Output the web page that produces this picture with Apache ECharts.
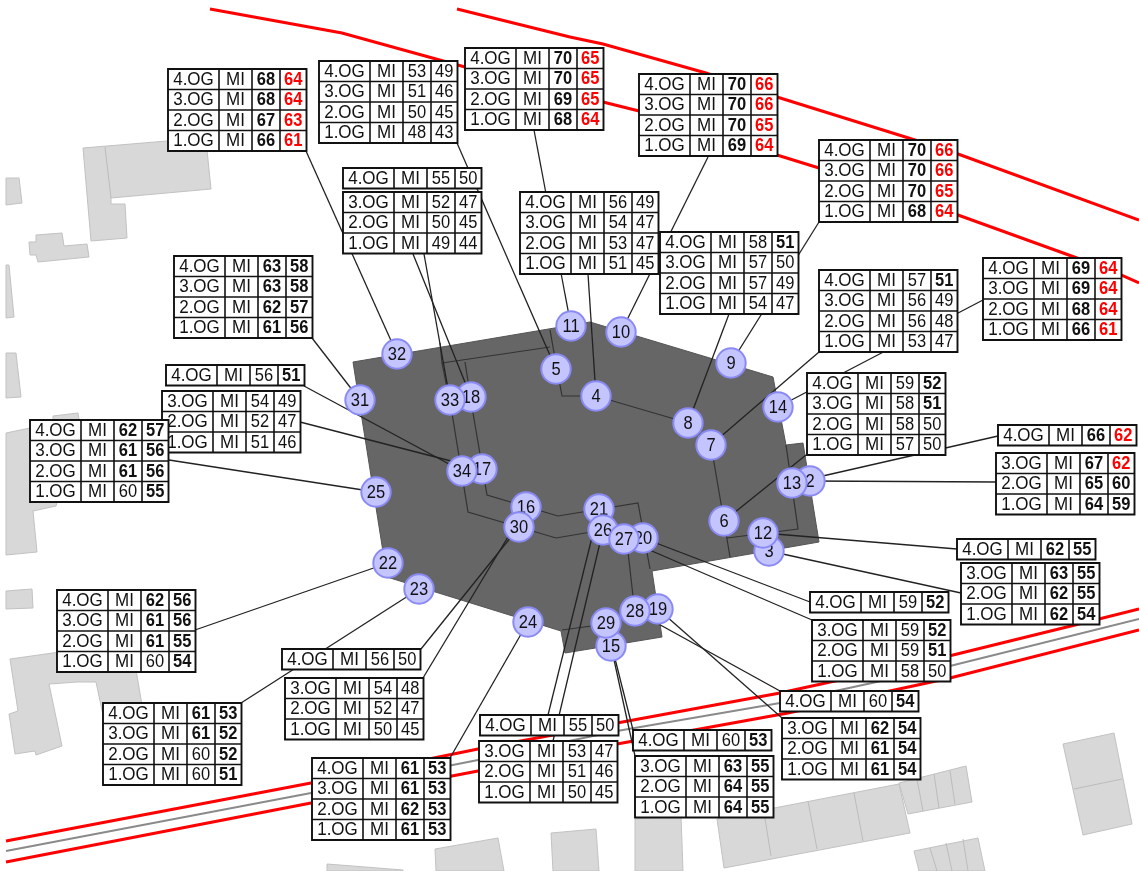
<!DOCTYPE html>
<html><head><meta charset="utf-8">
<style>html,body{margin:0;padding:0;background:#fff}#c{width:1139px;height:871px}</style>
<script src="https://cdn.jsdelivr.net/npm/echarts@6/dist/echarts.min.js"></script>
</head><body><div id="c"></div>
<script>
// ---- receiver points ----
const pointIds = [2,3,4,5,6,7,8,9,10,11,12,13,14,15,16,17,18,19,20,21,22,23,24,25,26,27,28,29,30,31,32,33,34];
const pointPos = [[810,481],[769,551],[596,396],[556,369],[724,521],[711,445],[688,423],[731,363],[621,332],[571,326],[763,533],[792,483],[778,407],[611,646],[526,507],[482,469],[471,397],[658,609],[643,538],[599,509],[388,563],[419,589],[528,622],[376,492],[603,530],[624,539],[635,611],[606,623],[519,527],[360,400],[397,354],[450,400],[462,471]];
// where each point's leader line leaves its table
const leaderStart = [[996,482],[961,593],[588,274],[457,143],[806,455],[819,352],[729,314],[819,222],[708,157],[534,130],[957,549],[998,436],[983,300],[635,756],[423,678],[300,422],[413,254],[782,718],[810,602],[548,715],[195,630],[241,703],[450,758],[169,460],[553,741],[812,620],[780,691],[633,730],[421,649],[312,338],[306,151],[424,254],[304,386]];
// ---- level tables ----
const floors4 = ['4.OG','3.OG','2.OG','1.OG'];
const floors1 = ['4.OG'];
const floors3 = ['3.OG','2.OG','1.OG'];
const usage = 'MI';
const tableFloors = [floors4,floors4,floors4,floors4,floors4,floors4,floors4,floors4,floors4,floors1,floors3,floors4,floors1,floors3,floors4,floors4,floors1,floors3,floors4,floors1,floors3,floors1,floors3,floors1,floors3,floors1,floors3,floors1,floors3,floors1,floors3];
const tableDay = [[68,68,67,66],[53,51,50,48],[70,70,69,68],[70,70,70,69],[70,70,70,68],[69,69,68,66],[57,56,56,53],[58,57,57,54],[56,54,53,51],[55],[52,50,49],[63,63,62,61],[56],[54,52,51],[62,61,61,60],[62,61,61,60],[56],[54,52,50],[61,61,60,60],[55],[53,51,50],[60],[63,64,64],[60],[62,61,61],[59],[59,59,58],[62],[63,62,62],[66],[67,65,64]];
const tableNight = [[64,64,63,61],[49,46,45,43],[65,65,65,64],[66,66,65,64],[66,66,65,64],[64,64,64,61],[51,49,48,47],[51,50,49,47],[49,47,47,45],[50],[47,45,44],[58,58,57,56],[51],[49,47,46],[57,56,56,55],[56,56,55,54],[50],[48,47,45],[53,52,52,51],[50],[47,46,45],[53],[55,55,55],[54],[54,54,54],[52],[52,51,50],[55],[55,55,54],[62],[62,60,59]];
const tableOrigin = [[168,69],[319,61],[465,48],[639,74],[819,140],[983,258],[819,270],[660,232],[520,192],[343,168],[343,192],[174,256],[166,365],[162,391],[30,420],[57,590],[282,649],[285,678],[103,703],[480,715],[479,741],[633,730],[635,756],[780,691],[782,718],[810,592],[812,620],[957,539],[961,563],[998,425],[996,453]];
const tableExtra = [[312,758],[807,373]];
const tableExtraFloors = [floors4,floors4];
const tableExtraDay = [[61,61,62,61],[59,58,58,57]];
const tableExtraNight = [[53,53,53,53],[52,51,50,50]];
// ---- map ----
const roads = [
 {kind:'red',path:[[210,9],[342,33],[465,67],[603,102],[639,111],[777,155],[819,168],[958,215],[1077,258],[1121,275],[1139,283]]},
 {kind:'red',path:[[457,9],[570,37],[603,44],[706,73],[777,97],[915,140],[958,154],[1139,220]]},
 {kind:'red',path:[[6,841],[311,783],[478,749],[617,723],[780,693],[949,656],[1075,625],[1139,609]]},
 {kind:'gray',path:[[6,851],[311,793],[478,760],[617,731],[780,703],[950,666],[1139,619]]},
 {kind:'red',path:[[6,862],[311,803],[478,771],[617,744],[788,713],[950,678],[1139,630]]}
];
const hall = [[353,362],[590,322],[773,377],[786,445],[803,443],[819,542],[652,571],[662,637],[565,653],[561,631],[387,577]];
const hallLines = [
 [[442,363],[550,347]],[[550,330],[553,347],[562,396],[596,396],[688,423],[711,445],[724,521],[730,557]],
 [[727,538],[798,529],[786,445]],
 [[440,343],[442,363],[452,413],[468,512],[556,538],[603,530]],
 [[465,362],[473,413],[487,495],[558,516],[638,503],[650,569]],
 [[627,543],[633,596]],[[562,630],[606,624]]
];
const neighbours = [
 [[83,148],[167,141],[207,150],[211,189],[111,198],[111,204],[125,204],[127,238],[91,241]],
 [[6,178],[19,178],[22,203],[6,205]],
 [[36,235],[62,233],[64,246],[87,244],[89,257],[38,262],[36,255],[30,255],[29,242],[36,242]],
 [[6,265],[9,265],[14,317],[6,318]],
 [[6,353],[16,353],[21,397],[6,398]],
 [[6,433],[30,428],[53,426],[53,416],[78,413],[80,425],[56,506],[33,511],[37,552],[6,555]],
 [[6,591],[32,589],[33,608],[6,609]],
 [[10,659],[60,652],[136,670],[142,705],[103,715],[96,682],[78,682],[49,684],[62,746],[36,755],[35,751],[15,754],[9,714],[18,711]],
 [[435,849],[498,838],[504,871],[436,871]],
 [[551,833],[596,829],[599,871],[553,871]],
 [[635,819],[681,816],[683,871],[635,871]],
 [[717,819],[899,784],[910,833],[724,868]],
 [[899,783],[966,766],[972,802],[908,814]],
 [[1063,744],[1114,733],[1132,824],[1083,835]],
 [[914,851],[978,838],[985,871],[919,871]],
 [[327,864],[403,870],[403,871],[327,871]]
];
const neighbourWalls = [[[105,147],[111,198]],[[763,806],[771,856]],[[808,801],[817,849]],[[854,793],[863,841]],[[917,779],[923,811]],[[934,774],[939,808]],[[950,771],[955,804]],[[1074,789],[1122,779]],[[930,848],[937,871]],[[946,843],[952,871]],[[963,839],[968,871]]];

const colW = [51,33,28,26.5], rowH = 20.5, FONT = '"Liberation Sans", Arial, sans-serif', INK = '#111';
const allFloors = tableFloors.concat(tableExtraFloors);
const allDay = tableDay.concat(tableExtraDay);
const allNight = tableNight.concat(tableExtraNight);
const allOrigin = tableOrigin.concat(tableExtra);

function pathItem(api, pts, style, closed){
  return {type: closed?'polygon':'polyline', shape:{points:pts.map(p=>api.coord(p))}, style};
}
function shapesSeries(name, list, styleFn, closed, z){
  return {type:'custom', name, coordinateSystem:'cartesian2d', silent:true, z,
    clip:true, data:list.map((_,i)=>[i]), encode:{x:0,y:0},
    renderItem:(p,api)=>pathItem(api, list[api.value(0)], styleFn(api.value(0)), closed)};
}
function label(x,y,text,size,weight,fill){
  return {type:'text',x,y,scaleY:1.1,style:{x:0,y:0,text,align:'center',verticalAlign:'middle',fontFamily:FONT,fontSize:size,fontWeight:weight,fill}};
}
function tableItem(p, api){
  const i = api.value(0), o = allOrigin[i], fl = allFloors[i];
  const tl = api.coord(o);
  const children = [];
  const W = colW.reduce((a,b)=>a+b,0), H = rowH*fl.length;
  children.push({type:'rect',shape:{x:tl[0],y:tl[1],width:W,height:H},style:{fill:'#fff',stroke:INK,lineWidth:1.9}});
  let cx = tl[0];
  colW.slice(0,3).forEach(w=>{cx+=w;children.push({type:'line',shape:{x1:cx,y1:tl[1],x2:cx,y2:tl[1]+H},style:{stroke:INK,lineWidth:1.6}});});
  for(let r=1;r<fl.length;r++){children.push({type:'line',shape:{x1:tl[0],y1:tl[1]+r*rowH,x2:tl[0]+W,y2:tl[1]+r*rowH},style:{stroke:INK,lineWidth:1.6}});}
  fl.forEach((f,r)=>{
    const y = tl[1]+(r+.5)*rowH+.5;
    const d = allDay[i][r], n = allNight[i][r];
    const cells = [[f,'normal',INK],[usage,'normal',INK],[String(d),d>60?'bold':'normal',INK],[String(n),n>50?'bold':'normal',n>60?'#ff0000':INK]];
    let x = tl[0];
    cells.forEach((c,k)=>{
      children.push(label(x+colW[k]/2,y,c[0],k<2?17:16.5,c[1],c[2]));
      x+=colW[k];
    });
  });
  return {type:'group',children};
}
function pointItem(p, api){
  const i = api.value(0), c = api.coord(pointPos[i]);
  return {type:'group',children:[
    {type:'circle',shape:{cx:c[0],cy:c[1],r:14.7},style:{fill:'#c4c4ff',stroke:'#8a8af5',lineWidth:2}},
    label(c[0],c[1]+.5,String(pointIds[i]),16.5,'normal',INK)
  ]};
}
const leaders = pointIds.map((_,i)=>[leaderStart[i],pointPos[i]]);
const option = {
  animation:false, backgroundColor:'#fff',
  grid:{left:0,right:0,top:0,bottom:0},
  xAxis:{type:'value',min:0,max:1139,show:false},
  yAxis:{type:'value',min:0,max:871,inverse:true,show:false},
  series:[
    shapesSeries('neighbours',neighbours,()=>({fill:'#d8d8d8',stroke:'#c2c2c2',lineWidth:1}),true,1),
    shapesSeries('walls',neighbourWalls,()=>({fill:'none',stroke:'#bcbcbc',lineWidth:1}),false,2),
    shapesSeries('roads',roads.map(r=>r.path),i=>({fill:'none',stroke:roads[i].kind==='red'?'#ff0000':'#8a8a8a',lineWidth:roads[i].kind==='red'?3:2}),false,3),
    shapesSeries('hall',[hall],()=>({fill:'#666666',stroke:'#555555',lineWidth:1}),true,4),
    shapesSeries('hallLines',hallLines,()=>({fill:'none',stroke:'#333333',lineWidth:1.2}),false,5),
    shapesSeries('leaders',leaders,()=>({fill:'none',stroke:'#222222',lineWidth:1.3}),false,6),
    {type:'custom',name:'points',coordinateSystem:'cartesian2d',z:7,silent:true,
      data:pointIds.map((_,i)=>[i]),encode:{x:0,y:0},renderItem:pointItem},
    {type:'custom',name:'tables',coordinateSystem:'cartesian2d',z:8,silent:true,
      data:allOrigin.map((_,i)=>[i]),encode:{x:0,y:0},renderItem:tableItem}
  ]
};
echarts.init(document.getElementById('c'),null,{renderer:'canvas'}).setOption(option);
</script></body></html>
